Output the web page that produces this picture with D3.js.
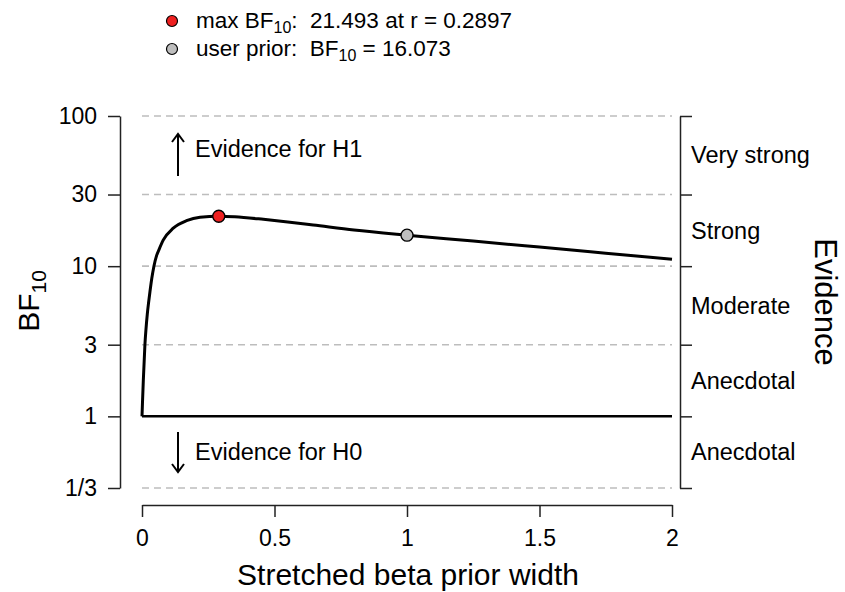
<!DOCTYPE html>
<html>
<head>
<meta charset="utf-8">
<script src="https://cdn.jsdelivr.net/npm/d3@7/dist/d3.min.js"></script>
<style>
  body { margin: 0; background: #fff; }
  text { font-family: "Liberation Sans", Arial, sans-serif; fill: #000; }
</style>
</head>
<body>
<div id="chart"></div>
<script>
// robustness curve
var priorWidths = [0, 0.002, 0.005, 0.011, 0.015, 0.02, 0.025, 0.03, 0.037, 0.045, 0.055, 0.065, 0.08,
  0.118, 0.168, 0.219, 0.2897, 0.35, 0.458, 0.55, 0.646, 0.8, 1.0, 1.25, 1.5, 1.75, 2.0];
var bf10Values = [1, 1.26, 1.74, 3.0, 3.8, 4.8, 5.75, 6.75, 8.3, 10, 11.75, 13.0, 14.9,
  17.9, 20.1, 21.2, 21.493, 21.3, 20.5, 19.7, 18.8, 17.4, 16.073, 14.7, 13.4, 12.2, 11.1];

var maxPoint = {r: 0.2897, bf: 21.493};
var userPoint = {r: 1, bf: 16.073};

var yTicks = [1 / 3, 1, 3, 10, 30, 100];
var yTickLabels = ['1/3', '1', '3', '10', '30', '100'];
var xTicks = [0, 0.5, 1, 1.5, 2];
var evidenceLabels = ['Anecdotal', 'Anecdotal', 'Moderate', 'Strong', 'Very strong'];

var width = 845, height = 592;
var svg = d3.select('#chart').append('svg')
  .attr('width', width)
  .attr('height', height);

var x = d3.scaleLinear().domain([0, 2]).range([142, 672]);
var y = d3.scaleLog().domain([1 / 3, 100]).range([488, 116]);

// dashed reference lines
svg.selectAll('.grid')
  .data(yTicks.filter(function (d) { return d !== 1; }))
  .enter()
  .append('line')
  .attr('class', 'grid')
  .attr('x1', x(0))
  .attr('x2', x(2))
  .attr('y1', function (d) { return y(d); })
  .attr('y2', function (d) { return y(d); })
  .style('stroke', '#bdbdbd')
  .style('stroke-width', 1.6)
  .style('stroke-dasharray', '7,5');

// left axis
var leftAxis = d3.axisLeft(y)
  .tickValues(yTicks)
  .tickFormat(function (d, i) { return yTickLabels[i]; })
  .tickSize(12)
  .tickPadding(11)
  .tickSizeOuter(0);
var gLeft = svg.append('g')
  .attr('transform', 'translate(120,0)')
  .call(leftAxis);
gLeft.selectAll('text').style('font-size', '23px').style('font-family', '"Liberation Sans", Arial, sans-serif');
gLeft.selectAll('line, path').style('stroke', '#222').style('stroke-width', 1.5);

// right axis (evidence categories)
var rightAxis = d3.axisRight(y)
  .tickValues(yTicks)
  .tickFormat('')
  .tickSize(12)
  .tickSizeOuter(0);
var gRight = svg.append('g')
  .attr('transform', 'translate(680,0)')
  .call(rightAxis);
gRight.selectAll('line, path').style('stroke', '#222').style('stroke-width', 1.5);

svg.selectAll('.evLabel')
  .data(evidenceLabels)
  .enter()
  .append('text')
  .attr('class', 'evLabel')
  .attr('x', 691)
  .attr('y', function (d, i) { return y(Math.sqrt(yTicks[i] * yTicks[i + 1])); })
  .attr('dy', '0.35em')
  .style('font-size', '23.5px')
  .text(function (d) { return d; });

// bottom axis
var bottomAxis = d3.axisBottom(x)
  .tickValues(xTicks)
  .tickFormat(d3.format('~g'))
  .tickSize(12)
  .tickPadding(13)
  .tickSizeOuter(0);
var gBottom = svg.append('g')
  .attr('transform', 'translate(0,505)')
  .call(bottomAxis);
gBottom.selectAll('text').style('font-size', '23px').style('font-family', '"Liberation Sans", Arial, sans-serif');
gBottom.selectAll('line, path').style('stroke', '#222').style('stroke-width', 1.5);

// axis titles
svg.append('text')
  .attr('x', (x(0) + x(2)) / 2 + 1)
  .attr('y', 585)
  .attr('text-anchor', 'middle')
  .style('font-size', '30px')
  .text('Stretched beta prior width');

var yTitle = svg.append('text')
  .attr('transform', 'translate(39,301) rotate(-90)')
  .attr('text-anchor', 'middle')
  .style('font-size', '30px');
yTitle.append('tspan').text('BF');
yTitle.append('tspan').attr('dy', 7).style('font-size', '21px').text('10');

svg.append('text')
  .attr('transform', 'translate(815,302) rotate(90)')
  .attr('text-anchor', 'middle')
  .style('font-size', '31px')
  .text('Evidence');

// evidence arrows
function arrow (xPos, y1, y2) {
  var dir = y2 > y1 ? 1 : -1;
  var path = d3.path();
  path.moveTo(xPos, y1);
  path.lineTo(xPos, y2);
  path.moveTo(xPos - 6, y2 - dir * 8);
  path.lineTo(xPos, y2);
  path.lineTo(xPos + 6, y2 - dir * 8);
  svg.append('path')
    .attr('d', path.toString())
    .style('fill', 'none')
    .style('stroke', '#000')
    .style('stroke-width', 2);
}
arrow(178, 176, 134);
arrow(178, 432, 472);

svg.append('text')
  .attr('x', 195).attr('y', 157)
  .style('font-size', '23.5px')
  .text('Evidence for H1');
svg.append('text')
  .attr('x', 195).attr('y', 460)
  .style('font-size', '23.5px')
  .text('Evidence for H0');

// BF = 1 line
svg.append('line')
  .attr('x1', x(0)).attr('x2', x(2))
  .attr('y1', y(1)).attr('y2', y(1))
  .style('stroke', '#000')
  .style('stroke-width', 2.5);

// robustness curve
var line = d3.line()
  .x(function (d, i) { return x(priorWidths[i]); })
  .y(function (d) { return y(d); })
  .curve(d3.curveMonotoneX);

svg.append('path')
  .attr('d', line(bf10Values))
  .style('fill', 'none')
  .style('stroke', '#000')
  .style('stroke-width', 3)
  .style('stroke-linejoin', 'round');

svg.append('circle')
  .attr('cx', x(maxPoint.r)).attr('cy', y(maxPoint.bf)).attr('r', 6)
  .style('fill', '#ee2020').style('stroke', '#000').style('stroke-width', 1.3);
svg.append('circle')
  .attr('cx', x(userPoint.r)).attr('cy', y(userPoint.bf)).attr('r', 6)
  .style('fill', '#bebebe').style('stroke', '#000').style('stroke-width', 1.3);

// legend
var legend = svg.append('g');
legend.append('circle')
  .attr('cx', 172).attr('cy', 21).attr('r', 5.5)
  .style('fill', '#ee2020').style('stroke', '#000').style('stroke-width', 1.2);
legend.append('circle')
  .attr('cx', 172).attr('cy', 49).attr('r', 5.5)
  .style('fill', '#bebebe').style('stroke', '#000').style('stroke-width', 1.2);

var l1 = legend.append('text').attr('x', 196).attr('y', 28).style('font-size', '22.5px')
  .attr('xml:space', 'preserve').style('white-space', 'pre');
l1.append('tspan').text('max BF');
l1.append('tspan').attr('dy', 5).style('font-size', '16px').text('10');
l1.append('tspan').attr('dy', -5).text(':  ' + maxPoint.bf.toFixed(3) + ' at r = ' + maxPoint.r);

var l2 = legend.append('text').attr('x', 196).attr('y', 56).style('font-size', '22.5px')
  .attr('xml:space', 'preserve').style('white-space', 'pre');
l2.append('tspan').text('user prior:  BF');
l2.append('tspan').attr('dy', 5).style('font-size', '16px').text('10');
l2.append('tspan').attr('dy', -5).text(' = ' + userPoint.bf.toFixed(3));
</script>
</body>
</html>
